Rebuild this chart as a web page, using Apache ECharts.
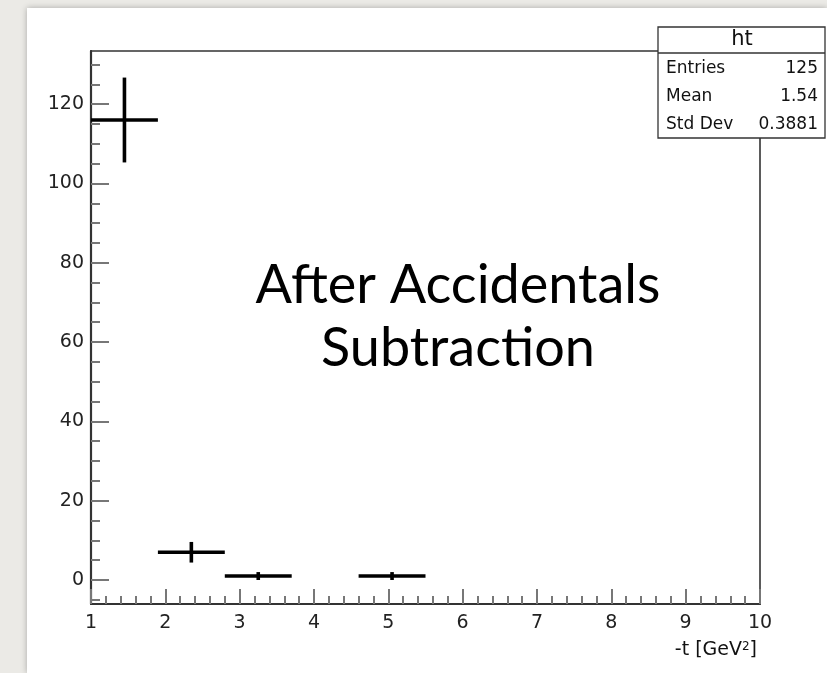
<!DOCTYPE html>
<html>
<head>
<meta charset="utf-8">
<script src="https://cdn.jsdelivr.net/npm/echarts@6/dist/echarts.min.js"></script>
<style>
  html,body{margin:0;padding:0;width:827px;height:673px;overflow:hidden;background:#ebeae6;}
  #panel{position:absolute;left:27px;top:8px;right:0;bottom:0;background:#fff;box-shadow:0 0 6px rgba(0,0,0,0.28);}
  #chart{position:absolute;left:0;top:0;width:827px;height:673px;}
</style>
</head>
<body>
<div id="panel"></div>
<div id="chart"></div>
<script>
// ---- data ----
const binEdges = [1, 1.9, 2.8, 3.7, 4.6, 5.5, 6.4, 7.3, 8.2, 9.1, 10];
const counts   = [116, 7, 1, 0, 1, 0, 0, 0, 0, 0];
const errors   = [10.7, 2.6, 1.0, 0, 1.0, 0, 0, 0, 0, 0];
const yMajorTicks = [0, 20, 40, 60, 80, 100, 120];
const yMinorTicks = [-5, 5, 10, 15, 25, 30, 35, 45, 50, 55, 65, 70, 75, 85, 90, 95, 105, 110, 115, 125, 130];
const statsTitle  = 'ht';
const statsLabels = ['Entries', 'Mean', 'Std Dev'];
const statsValues = ['125', '1.54', '0.3881'];
const annotationLines = ['After Accidentals', 'Subtraction'];

const points = [];
for (let i = 0; i < counts.length; i++) {
  if (counts[i] > 0) points.push([binEdges[i], binEdges[i + 1], counts[i], errors[i]]);
}

const chart = echarts.init(document.getElementById('chart'), null, {renderer: 'canvas'});
const labelFont = '"DejaVu Sans", "Liberation Sans", Arial, sans-serif';

const graphics = [];
// stats box
graphics.push({type: 'rect', shape: {x: 658, y: 27, width: 167, height: 111},
  style: {fill: '#fff', stroke: '#333', lineWidth: 1.3}, z: 100});
graphics.push({type: 'line', shape: {x1: 658, y1: 53, x2: 825, y2: 53},
  style: {stroke: '#333', lineWidth: 1.3}, z: 101});
graphics.push({type: 'text', x: 742, y: 40, z: 101,
  style: {text: statsTitle, font: '21px ' + labelFont, fill: '#111', align: 'center', verticalAlign: 'middle'}});
statsLabels.forEach((l, i) => {
  graphics.push({type: 'text', x: 666, y: 69 + i * 28, z: 101,
    style: {text: l, font: '17px ' + labelFont, fill: '#111', align: 'left', verticalAlign: 'middle'}});
  graphics.push({type: 'text', x: 818, y: 69 + i * 28, z: 101,
    style: {text: statsValues[i], font: '17px ' + labelFont, fill: '#111', align: 'right', verticalAlign: 'middle'}});
});
// annotation
annotationLines.forEach((t, i) => {
  graphics.push({type: 'text', x: 458, y: 286 + i * 63, z: 50,
    style: {text: t, font: '54px Lato, "Open Sans", sans-serif', fill: '#000', align: 'center', verticalAlign: 'middle'}});
});
// x axis title
graphics.push({type: 'text', x: 757, y: 650, z: 50,
  style: {text: '-t [GeV{sup|2}]', font: '19px ' + labelFont, fill: '#111', align: 'right', verticalAlign: 'middle',
    rich: {sup: {fontSize: 12, fontFamily: 'DejaVu Sans', fill: '#111', verticalAlign: 'top'}}}});

const option = {
  animation: false,
  grid: {left: 91, top: 51, right: 67, bottom: 69, show: true, borderColor: '#333', borderWidth: 1.6, backgroundColor: 'transparent'},
  xAxis: {
    type: 'value', min: 1, max: 10, interval: 1,
    axisLine: {show: true, onZero: false, lineStyle: {color: '#333', width: 2.2}},
    axisTick: {show: true, inside: true, length: 15, lineStyle: {color: '#777', width: 2}},
    minorTick: {show: true, splitNumber: 5, length: 8, lineStyle: {color: '#777', width: 2}},
    axisLabel: {fontSize: 19, fontFamily: 'DejaVu Sans', color: '#222', margin: 10},
    splitLine: {show: false}
  },
  yAxis: [{
    type: 'value', min: -6.05, max: 133.4,
    axisLine: {show: true, onZero: false, lineStyle: {color: '#333', width: 2.2}},
    axisTick: {show: true, inside: true, length: 18, customValues: yMajorTicks, lineStyle: {color: '#777', width: 2}},
    axisLabel: {fontSize: 19, fontFamily: 'DejaVu Sans', color: '#222', margin: 7, customValues: yMajorTicks},
    splitLine: {show: false}
  }, {
    type: 'value', min: -6.05, max: 133.4, position: 'left',
    axisLine: {show: false},
    axisTick: {show: true, inside: true, length: 9, customValues: yMinorTicks, lineStyle: {color: '#777', width: 2}},
    axisLabel: {show: false},
    splitLine: {show: false}
  }],
  series: [{
    type: 'custom',
    xAxisIndex: 0, yAxisIndex: 0,
    data: points,
    renderItem: function (params, api) {
      const lo = api.value(0), hi = api.value(1), y = api.value(2), e = api.value(3);
      const c = (lo + hi) / 2;
      const pLo = api.coord([lo, y]), pHi = api.coord([hi, y]);
      const pTop = api.coord([c, y + e]), pBot = api.coord([c, y - e]);
      const st = {stroke: '#000', lineWidth: 3.6};
      return {type: 'group', children: [
        {type: 'line', shape: {x1: pLo[0], y1: pLo[1], x2: pHi[0], y2: pHi[1]}, style: st},
        {type: 'line', shape: {x1: pTop[0], y1: pTop[1], x2: pBot[0], y2: pBot[1]}, style: st}
      ]};
    }
  }],
  graphic: graphics
};
chart.setOption(option);
</script>
</body>
</html>
